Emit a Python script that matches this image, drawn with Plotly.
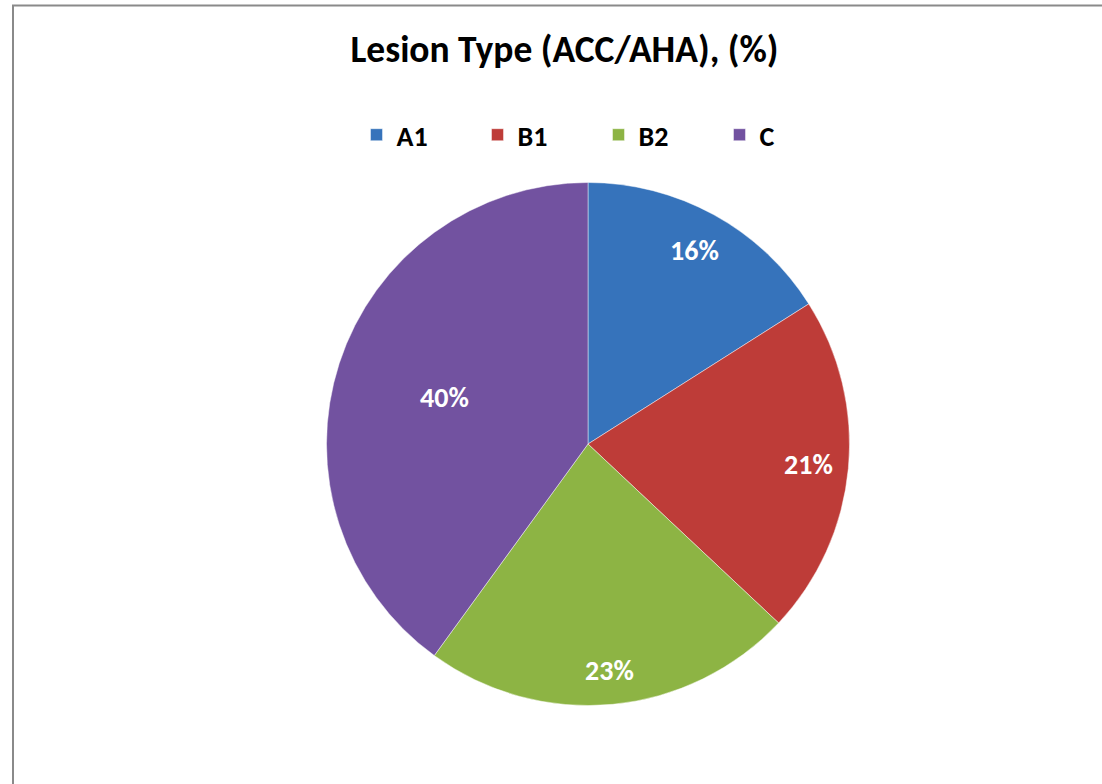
import math
import plotly.graph_objects as go

categories = ["A1", "B1", "B2", "C"]
values = [16, 21, 23, 40]
colors = ["#3673BB", "#BE3C38", "#8DB444", "#7252A0"]
label_radius = [0.845, 0.847, 0.87, 0.575]  # fraction of radius where labels sit

W, H = 1102, 784
cx, cy, R = 588, 444, 261.5
FONT = "Calibri, Carlito, Lato, sans-serif"

fig = go.Figure()
fig.add_trace(go.Pie(
    labels=categories, values=values, sort=False, direction="clockwise", rotation=0,
    marker=dict(colors=colors, line=dict(color="rgba(255,255,255,0.45)", width=1)),
    textinfo="none", hoverinfo="label+percent",
    domain=dict(x=[(cx - R) / W, (cx + R) / W], y=[1 - (cy + R) / H, 1 - (cy - R) / H]),
))

total = sum(values)
cum = 0
for v, rf in zip(values, label_radius):
    mid = (cum + v / 2) / total * 2 * math.pi
    cum += v
    px = cx + rf * R * math.sin(mid)
    py = cy - rf * R * math.cos(mid)
    fig.add_annotation(x=px / W, y=1 - py / H, xref="paper", yref="paper",
                       text=f"{round(v / total * 100)}%", showarrow=False,
                       font=dict(family=FONT, size=28, color="white", weight="bold"),
                       xanchor="center", yanchor="middle")

fig.add_shape(type="rect", xref="paper", yref="paper",
              x0=13 / W, x1=1.05, y0=-0.05, y1=1 - 5.5 / H,
              line=dict(color="#8A8A8A", width=2), fillcolor="rgba(0,0,0,0)")

fig.update_layout(
    width=W, height=H, margin=dict(l=0, r=0, t=0, b=0),
    paper_bgcolor="white", plot_bgcolor="white",
    title=dict(text="<b>Lesion Type (ACC/AHA), (%)</b>", x=564.5 / W, xanchor="center",
               y=1 - 49 / H, yanchor="middle", yref="container",
               font=dict(family=FONT, size=37.5, color="black")),
    showlegend=True,
    legend=dict(orientation="h", x=356.5 / W, xanchor="left", y=1 - 135 / H, yanchor="middle",
                font=dict(family=FONT, size=28, color="black", weight="bold"),
                entrywidth=76, entrywidthmode="pixels", traceorder="normal",
                bgcolor="rgba(0,0,0,0)"),
)

fig.write_html("out.html", config={"displayModeBar": False},
               post_script="document.body.style.margin='0';document.body.style.overflow='hidden';")
